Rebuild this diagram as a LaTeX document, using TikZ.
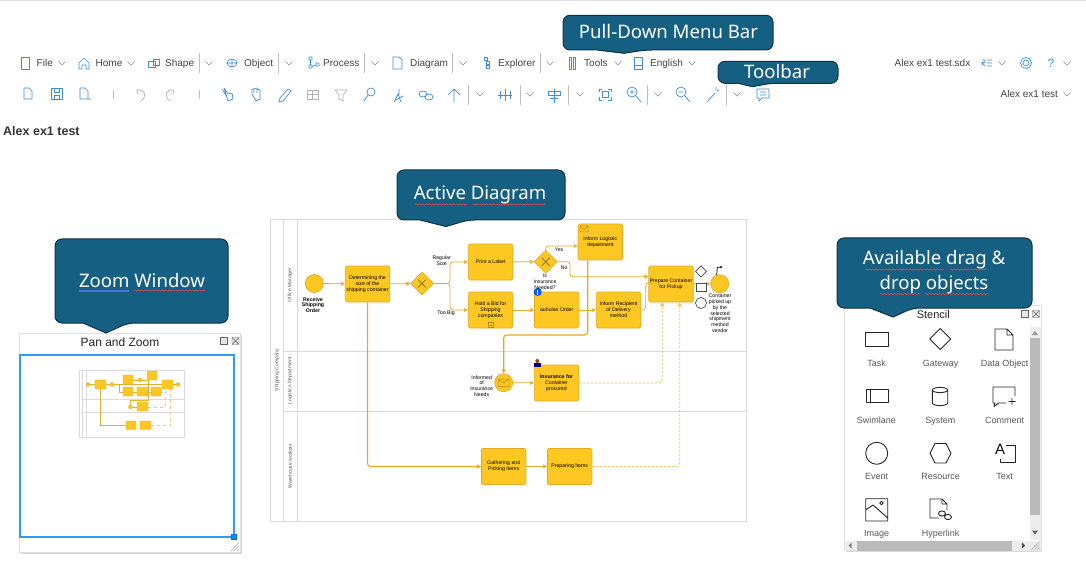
\documentclass[tikz,border=0pt]{standalone}
\usepackage{fontspec}
\setmainfont{Liberation Sans}
\newfontfamily\bubblefont{Noto Sans}
\usetikzlibrary{arrows.meta,decorations.pathmorphing,shadows,shapes.geometric}
\definecolor{bubblefill}{HTML}{156082}
\definecolor{bubbleline}{HTML}{0C3347}
\definecolor{taskfill}{HTML}{FFC722}
\definecolor{taskline}{HTML}{E2AC22}
\definecolor{flowline}{HTML}{E0AE30}
\definecolor{laneline}{HTML}{D9D9E4}
\definecolor{iconblue}{HTML}{3F8FD2}
\definecolor{menugrey}{HTML}{444444}
\definecolor{panblue}{HTML}{2E9CF2}
\definecolor{linkblue}{HTML}{4A78CC}
\tikzset{
	bubble/.style={draw=bubbleline, fill=bubblefill, line width=1pt, rounded corners=7pt},
	bubbletext/.style={text=white, inner sep=0pt, align=center, font=\bubblefont\fontsize{18.6}{25}\selectfont},
	squiggle/.style={draw=red!75, line width=.5pt, decorate, decoration={snake, amplitude=.7pt, segment length=3.4pt}},
	menutext/.style={text=menugrey, inner sep=0pt, anchor=base west, font=\fontsize{10}{12}\selectfont},
	chevron/.style={draw=black!45, line width=.5pt},
	sepline/.style={draw=black!25, line width=.5pt},
	toolicon/.style={draw=iconblue, line width=.7pt, line join=round},
	greyicon/.style={draw=black!30, line width=.7pt, line join=round},
	task/.style={draw=taskline, fill=taskfill, line width=.7pt, rounded corners=1.5pt, minimum width=44.5pt, minimum height=36pt, inner sep=0pt, align=center, font=\fontsize{5.2}{6}\selectfont},
	event/.style={circle, draw=taskline, fill=taskfill, line width=.7pt, minimum size=18pt, inner sep=0pt},
	gateway/.style={diamond, draw=taskline, fill=taskfill, line width=.7pt, minimum size=23pt, inner sep=0pt},
	flow/.style={draw=flowline, line width=.8pt, rounded corners=3pt, -{Stealth[length=4.5pt,width=4.5pt]}},
	mainflow/.style={flow, line width=1.1pt, draw=taskline},
	backflow/.style={flow, dash pattern=on 2pt off 2pt, draw=flowline!85},
	lane/.style={draw=laneline, line width=1pt},
	lanetext/.style={text=black!65, rotate=90, inner sep=0pt, font=\fontsize{5}{6}\selectfont},
	small/.style={inner sep=0pt, align=center, font=\fontsize{5.2}{5.8}\selectfont},
	window/.style={draw=black!12, fill=white, line width=.5pt, drop shadow={opacity=.3, shadow xshift=1pt, shadow yshift=-1.5pt}},
	stencilicon/.style={draw=black!85, line width=.9pt, line join=round},
	stencillabel/.style={text=black!65, inner sep=0pt, anchor=base, font=\fontsize{9}{11}\selectfont},
	minibox/.style={draw=taskline, fill=taskfill, line width=.4pt, rounded corners=.6pt},
	miniline/.style={draw=flowline, line width=.4pt},
	winbtn/.style={draw=black!60, fill=black!10, line width=.4pt},
}
% balloon with its pointer: left, top, right, bottom, then pointer left, tip x, tip y, pointer right
\newcommand{\balloon}[8]{
	\draw [bubble] (#1,#2) -- (#3,#2) -- (#3,#4) -- (#8,#4) [sharp corners] -- (#6,#7) -- (#5,#4) [rounded corners=7pt] -- (#1,#4) -- cycle;
}
\begin{document}
\begin{tikzpicture}[x=1pt, y=-1pt]
	\useasboundingbox (0,0) rectangle (1086,561);
	\fill [white] (0,0) rectangle (1086,561);
	\fill [black!12] (0,0) rectangle (1086,1);
%	\draw [step=50, black!20] (0,0) grid (1086,561);

	% menu bar
	\node [menutext] (mfile) at (36.5,66.5) {File};
	\node [menutext] (mhome) at (95.5,66.5) {Home};
	\node [menutext] (mshape) at (165,66.5) {Shape};
	\node [menutext] (mobject) at (244,66.5) {Object};
	\node [menutext] (mprocess) at (323,66.5) {Process};
	\node [menutext] (mdiagram) at (410,66.5) {Diagram};
	\node [menutext] (mexplorer) at (498,66.5) {Explorer};
	\node [menutext] (mtools) at (584,66.5) {Tools};
	\node [menutext] (menglish) at (650,66.5) {English};
	\node [menutext] (mfilename) at (894.5,66.5) {Alex ex1 test.sdx};
	\node [menutext] (mview) at (1000.5,98) {Alex ex1 test};
	\foreach \x in {62,131,209,289,375,463,550,618,692,1002,1067}
		\draw [chevron] (\x-3.5,61.5) -- (\x,65) -- (\x+3.5,61.5);
	\foreach \x in {480,530,580,658,737,1067}
		\draw [chevron] (\x-3.5,92.5) -- (\x,96) -- (\x+3.5,92.5);
	\foreach \x in {199,278,364,452,540}
		\draw [sepline] (\x,53) -- (\x,73);
	\foreach \x in {468,520,568,647,726}
		\draw [sepline] (\x,85) -- (\x,105);
	\foreach \x in {113,199}
		\draw [sepline] (\x,90.5) -- (\x,99.5);

	% menu icons
	\draw [toolicon] (21,57) rectangle (29,69);
	\draw [toolicon] (79,69) -- (79,63) -- (84,58) -- (89,63) -- (89,69) -- (86,69) -- (86,65) -- (82,65) -- (82,69) -- cycle;
	\draw [toolicon] (148,61) rectangle (155,67) (153,59) rectangle (159,65);
	\draw [toolicon] (232,63) ellipse [x radius=5, y radius=4] (227,63) -- (237,63) (232,59) -- (232,67);
	\draw [toolicon] (309,57) rectangle (312,60) (310.5,60) -- (310.5,65) (309,65) rectangle (312,68) (316,63) rectangle (319,66) (312,66.5) -- (316,65);
	\draw [toolicon] (393,57) -- (399,57) -- (402,60) -- (402,69) -- (393,69) -- cycle;
	\draw [toolicon] (484,57) rectangle (487,60) (486,61) rectangle (489,64) (486,65) rectangle (489,68);
	\draw [toolicon] (569,57) rectangle (571,69) (573,57) rectangle (575,69);
	\draw [toolicon] (634,57) rectangle (642,69) (634,65) -- (642,65);
	\draw [toolicon] (982,60) -- (985,60) -- (985,62.5) -- (982,62.5) -- (985,66) (982,62.5) -- (982,66) (987,60) -- (992,60) (987,63) -- (992,63) (987,66) -- (992,66);
	\draw [toolicon] (1026,63) circle [radius=3] (1026,63) circle [radius=5.5];
	\node [text=iconblue, inner sep=0pt, font=\fontsize{12}{12}\selectfont] (mhelp) at (1051,63) {?};

	% tool bar
	\begin{scope}[shift={(0,-1)}]
	\draw [toolicon] (24,89) -- (29,89) -- (32,92) -- (32,100) -- (24,100) -- cycle;
	\draw [toolicon] (51,89) rectangle (62,100) (54,89) rectangle (59,93) (54,100) rectangle (59,96);
	\draw [toolicon] (80,89) -- (85,89) -- (88,92) -- (88,100) -- (80,100) -- cycle (87,100) -- (91,100);
	\draw [greyicon] (138,95) -- (137,91) -- (141,91) (137,91) .. controls (146,90) and (147,98) .. (141,102);
	\draw [greyicon] (173,95) -- (174,91) -- (170,91) (174,91) .. controls (165,90) and (164,98) .. (170,102);
	\draw [toolicon] (222,90) -- (227,98) (224,89) -- (228,95) -- (232,94) -- (233,100) -- (228,102) -- cycle;
	\draw [toolicon] (252,95) -- (252,90) -- (254,90) -- (254,94) (254,90) -- (257,89) -- (257,94) (257,90) -- (260,91) -- (260,100) -- (256,102) -- (252,95);
	\draw [toolicon] (279,103) -- (280,99) -- (288,90) -- (291,92) -- (283,102) -- cycle;
	\draw [greyicon] (307,91) rectangle (318,100) (312.5,91) -- (312.5,100) (307,95.5) -- (318,95.5);
	\draw [greyicon] (335,91) -- (347,91) -- (343,96) -- (343,102) -- (339,100) -- (339,96) -- cycle;
	\draw [toolicon] (371,93) circle [radius=4] (368,96) -- (364,102);
	\draw [toolicon] (396,101) -- (403,97) (394,103) -- (398,95) -- (401,103) (399,90) -- (399,96);
	\draw [toolicon] (423,95) ellipse [x radius=4, y radius=3] (429,98) ellipse [x radius=4, y radius=3];
	\draw [toolicon] (454,103) -- (454,90) (448,96) -- (454,90) -- (460,96);
	\draw [toolicon] (500,92) -- (500,100) (505,90) -- (505,102) (510,92) -- (510,100) (498,96) -- (512,96);
	\draw [toolicon] (554,90) -- (554,104) (548,92) rectangle (560,96) (550,99) -- (558,99);
	\draw [toolicon] (602,92.5) rectangle (608,98.5) (599,93) -- (599,90) -- (602,90) (608,90) -- (611,90) -- (611,93) (599,98) -- (599,101) -- (602,101) (608,101) -- (611,101) -- (611,98);
	\draw [toolicon] (632,93) circle [radius=5] (629.5,93) -- (634.5,93) (632,90.5) -- (632,95.5) (636,97) -- (641,103);
	\draw [toolicon] (681,93) circle [radius=5] (678.5,93) -- (683.5,93) (685,97) -- (690,103);
	\draw [toolicon] (707,103) -- (715,94) (716,88) -- (716,91) (719,91) -- (717,92);
	\draw [toolicon] (757,90) -- (769,90) -- (769,99) -- (762,99) -- (759,102) -- (759,99) -- (757,99) -- cycle (760,93) -- (766,93) (760,96) -- (766,96);
	\end{scope}

	\node [inner sep=0pt, anchor=west, text=black!80, font=\bfseries\fontsize{12.5}{15}\selectfont] (title) at (3,131) {Alex ex1 test};

	% active diagram
	\draw [lane] (270.5,220) rectangle (746,521.5);
	\draw [lane] (283.5,220) -- (283.5,521.5);
	\draw [lane] (297,220) -- (297,521.5);
	\draw [lane] (283.5,351.7) -- (746,351.7);
	\draw [lane] (283.5,411.7) -- (746,411.7);
	\node [lanetext] (lcompany) at (277,370) {Shipping Company};
	\node [lanetext] (loffice) at (290,285) {Office Manager};
	\node [lanetext] (llogistics) at (290,381) {Logistics Department};
	\node [lanetext] (lwarehouse) at (290,466) {Warehouse workers};

	\node [event] (receive) at (314.3,283.5) {};
	\node [task] (determine) at (367.5,284) {Determining the\\size of the\\shipping container};
	\node [gateway] (sizegate) at (422,283.5) {};
	\node [task] (print) at (490.5,262) {Print a Label};
	\node [task] (bid) at (490.5,310) {Hold a Bid for\\Shipping\\companies};
	\node [gateway] (insgate) at (545.7,261.7) {};
	\node [task] (logistic) at (600.3,242) {Inform Logistic\\department};
	\node [task] (schedule) at (556.7,310) {auhulan Order};
	\node [task] (recipient) at (618.5,310) {Inform Recipient\\of Delivery\\method};
	\node [task] (prepare) at (671,284) {Prepare Container\\for Pickup};
	\node [event] (pickedup) at (719.7,283.7) {};
	\node [event] (informed) at (503.7,382.7) {};
	\node [task] (insurance) at (556.5,383) {\textbf{Insurance for}\\\textit{Container}\\procured};
	\node [task] (gather) at (503.7,466.5) {Gathering and\\Picking Items};
	\node [task] (items) at (569.7,466.5) {Preparing Items};

	\coordinate (sizesplit) at (450,283.5);
	\coordinate (nobend) at (570,261.7);
	\coordinate (nolevel) at (570,276.7);
	\coordinate (recipbend) at (645.7,310);
	\coordinate (lowlevel) at (503.7,335);

	\draw [flow] (receive) -- (determine);
	\draw [flow] (determine) -- (sizegate);
	\draw [flow] (sizegate) -- (sizesplit) |- (print);
	\draw [flow] (sizegate) -- (sizesplit) |- (bid);
	\draw [flow] (print) -- (insgate);
	\draw [flow] (bid) -- (schedule);
	\draw [flow] (schedule) -- (recipient);
	\draw [flow] (insgate.north) |- (logistic.west |- 0,246);
	\draw [flow] (insgate.east) -- (nobend) -- (nolevel) -- (prepare.west |- nolevel);
	\draw [flow] (recipient) -- (recipbend) |- (prepare.west |- 0,282.7);
	\draw [flow] (prepare) -- (pickedup);
	\draw [mainflow] (logistic.south -| 587.7,0) |- (lowlevel) -- (informed);
	\draw [flow] (informed) -- (insurance);
	\draw [mainflow] (determine) |- (gather);
	\draw [flow] (gather) -- (items);
	\draw [backflow] (insurance) -| (prepare.south -| 662.3,0);
	\draw [backflow] (items) -| (prepare.south -| 679.7,0);

	% gateway marks and small icons
	\draw [black!50!taskline, line width=.5pt] (418,279.5) -- (426,287.5) (426,279.5) -- (418,287.5);
	\draw [black!50!taskline, line width=.5pt] (541.7,257.7) -- (549.7,265.7) (549.7,257.7) -- (541.7,265.7);
	\draw [taskline!80!black, line width=.4pt] (488,322) rectangle (493.5,327.5) (489.5,324.7) -- (492,324.7) (490.7,323.5) -- (490.7,326);
	\draw [taskline!80!black, line width=.5pt] (580,226) rectangle (588,232) (580,226) -- (584,229.5) -- (588,226);
	\draw [taskline!80!black, line width=.5pt] (498,379) rectangle (509,386.5) (498,379) -- (503.5,383) -- (509,379);
	\fill [blue!65!cyan] (537.7,292) circle [radius=4];
	\fill [white] (537.2,289.5) rectangle (538.2,294.5);
	\fill [blue!50!black] (534,363) rectangle (540.5,367);
	\fill [orange!60!black] (537.3,361) circle [radius=2];
	\draw [black!70, line width=.7pt, fill=white] (701,265.8) -- (706.5,271.3) -- (701,276.8) -- (695.5,271.3) -- cycle;
	\draw [black!70, line width=.7pt, fill=white] (696,283.7) rectangle (706.7,291);
	\draw [black!70, line width=.7pt, fill=white] (701,303) circle [radius=5.5];
	\draw [black, line width=.7pt, -{Stealth[length=2.5pt,width=2.5pt]}] (716.7,275) -- (717.3,267.3) -- (722.5,267);

	% labels of the active diagram
	\node [small, font=\bfseries\fontsize{5.2}{5.6}\selectfont] (treceive) at (313,305) {Receive\\Shipping\\Order};
	\node [small] (tregular) at (441.7,260.7) {Regular\\Size};
	\node [small] (ttoobig) at (446,313) {Too Big};
	\node [small] (tyes) at (559,249.3) {Yes};
	\node [small] (tno) at (564.3,267.3) {No};
	\node [small] (tneeded) at (545,282) {Is\\Insurance\\Needed?};
	\node [small, anchor=north] (tpicked) at (720,293.8) {Container\\picked up\\by the\\selected\\shipment\\method\\vendor};
	\node [small] (tinformed) at (481.7,386) {Informed\\of\\Insurance\\Needs};

	% pan and zoom window
	\draw [window] (19.5,333) rectangle (240.5,552);
	\node [inner sep=0pt, text=black!85, font=\fontsize{12}{14}\selectfont] (tpan) at (120,342) {Pan and Zoom};
	\draw [winbtn] (220.5,337.5) rectangle (227.5,344.5);
	\draw [winbtn] (232,337.5) rectangle (239,344.5) (232,337.5) -- (239,344.5) (239,337.5) -- (232,344.5);
	\draw [draw=panblue, line width=1.3pt] (20,355) rectangle (234,537);
	\draw [draw=blue!60!cyan, fill=cyan!80!blue, line width=.5pt] (231.3,534.3) rectangle (236.7,539.7);
	\foreach \d in {2,5,8}
		\draw [black!35, line width=.5pt] (239-\d,551) -- (239,551-\d);

	% overview inside the pan and zoom window
	\draw [draw=laneline, line width=.6pt] (79.5,370.5) rectangle (184,437);
	\draw [draw=laneline, line width=.6pt] (82.5,370.5) -- (82.5,437) (86,370.5) -- (86,437) (82.5,399.5) -- (184,399.5) (82.5,412.5) -- (184,412.5);
	\draw [miniline] (88,384.5) -- (178,384.5) (100.5,389) |- (126,425.5) (140,425.5) -- (151,425.5);
	\draw [miniline] (112,384.5) -- (119,384.5) -- (119,392) -- (123,392) (133,380) -- (147,380) (133,392) -- (162,392) (148.5,380) -- (148.5,400) -- (130.5,400) -- (130.5,407) (130.5,407) -- (137,407);
	\draw [miniline, dashed, flowline!60] (151,425.5) -- (170,425.5) -- (170,389) (148,407) -- (165,407) -- (165,389);
	\foreach \x/\y in {88/384.5,112/384.5,140/380,178/384.5,130.5/407}
		\fill [taskfill, draw=taskline, line width=.3pt] (\x,\y) circle [radius=2];
	\foreach \a/\b/\c/\d in {95/380/106/389,123/375/133/384,123/387/133/396,147/371/157/380,137/387/148/396,151/387/161/396,162/380/173/389,137/402/148/411,126/421/136/429.5,140/421/151/429.5}
		\draw [minibox] (\a,\b) rectangle (\c,\d);

	% stencil window
	\draw [window] (844.7,305) rectangle (1041,550.7);
	\node [inner sep=0pt, text=black!85, font=\fontsize{11}{13}\selectfont] (tstencil) at (933.3,315) {Stencil};
	\draw [winbtn] (1021.5,310.5) rectangle (1028.5,317.5);
	\draw [winbtn] (1032.5,310.5) rectangle (1039.5,317.5) (1032.5,310.5) -- (1039.5,317.5) (1039.5,310.5) -- (1032.5,317.5);
	\fill [black!7] (1030,327) rectangle (1041,540);
	\fill [black!27] (1030,338) rectangle (1040,515);
	\fill [black!40] (1035,331) -- (1038,335) -- (1032,335) -- cycle;
	\fill [black!60] (1032,530.5) -- (1038,530.5) -- (1035,534.5) -- cycle;
	\fill [black!7] (845,540.7) rectangle (1041,550.5);
	\fill [black!27] (856.7,540.7) rectangle (1011.7,550.5);
	\fill [black!50] (848.5,545.5) -- (851.5,542.5) -- (851.5,548.5) -- cycle;
	\fill [black!70] (1022,542.5) -- (1025,545.5) -- (1022,548.5) -- cycle;
	\foreach \d in {2,5,8}
		\draw [black!35, line width=.5pt] (1039.5-\d,549.7) -- (1039.5,549.7-\d);

	\draw [stencilicon] (865.7,332.7) rectangle (888,346);
	\node [stencillabel] (ttask) at (876.7,366) {Task};
	\draw [stencilicon] (940.3,328.5) -- (950.8,339) -- (940.3,349.5) -- (929.8,339) -- cycle;
	\node [stencillabel] (tgateway) at (940.7,366) {Gateway};
	\draw [stencilicon] (995,329) -- (1007,329) -- (1013,335) -- (1013,350) -- (995,350) -- cycle (1007,329) -- (1007,335) -- (1013,335);
	\node [stencillabel] (tdata) at (1004.5,366) {Data Object};
	\draw [stencilicon] (866,389.5) rectangle (888,402) (870.7,389.5) -- (870.7,402);
	\node [stencillabel] (tswim) at (876.3,423) {Swimlane};
	\draw [stencilicon] (932.3,390) -- (932.3,403) arc [start angle=180, end angle=360, x radius=7.7, y radius=-2.6] -- (947.7,390) (940,390) ellipse [x radius=7.7, y radius=2.6];
	\node [stencillabel] (tsystem) at (940.3,423) {System};
	\draw [stencilicon] (1006,403) -- (998.5,403) -- (994,406.5) -- (994.8,403) -- (993,403) -- (993,387) -- (1015,387) -- (1015,396) (1012,398) -- (1012,405) (1008.5,401.5) -- (1015.5,401.5);
	\node [stencillabel] (tcomment) at (1004.5,423) {Comment};
	\draw [stencilicon] (876.7,453.3) circle [radius=11];
	\node [stencillabel] (tevent) at (876.7,479.5) {Event};
	\draw [stencilicon] (930,453.3) -- (935,443.5) -- (946,443.5) -- (951,453.3) -- (946,463) -- (935,463) -- cycle;
	\node [stencillabel] (tresource) at (940.7,479.5) {Resource};
	\node [inner sep=0pt, font=\rmfamily\fontsize{15}{15}\selectfont] (tglyph) at (1000,449.5) {A};
	\draw [stencilicon] (1006,445) -- (1015,445) -- (1015,462) -- (1000,462) -- (1000,459);
	\node [stencillabel] (ttext) at (1004.5,479.5) {Text};
	\draw [stencilicon] (865.7,498.7) rectangle (887.7,521) (865.7,510) -- (873,505) -- (887.7,518) (881.5,503) circle [radius=1.8];
	\node [stencillabel] (timage) at (876.7,536.5) {Image};
	\draw [stencilicon] (939,518) -- (930,518) -- (930,499) -- (942,499) -- (947,504) -- (947,510) (942,499) -- (942,504) -- (947,504);
	\draw [stencilicon] (942,513.5) ellipse [x radius=3.5, y radius=2.6] (948,517) ellipse [x radius=3.5, y radius=2.6];
	\node [stencillabel] (tlink) at (940.7,536.5) {Hyperlink};

	% callouts
	\balloon{563}{15.3}{773}{50}{597}{624}{53.3}{645}
	\node [bubbletext] (tmenubar) at (668.5,31.5) {Pull-Down Menu Bar};
	\balloon{718}{61.3}{838}{83.3}{738}{752.5}{86.7}{770}
	\node [bubbletext] (ttoolbar) at (777,71.5) {Toolbar};
	\balloon{397}{170}{565}{220}{420}{446}{226.5}{468}
	\node [bubbletext] (tactive) at (480,194.5) {Active Diagram};
	\balloon{55}{239}{228}{323}{83}{106}{333}{128}
	\node [bubbletext] (tzoom) at (142,280.5) {Zoom Window};
	\balloon{837}{238}{1032}{308}{870}{893}{317}{913}
	\node [bubbletext] (tstock) at (934,272) {Available drag \&\\drop objects};

	% proofing marks under the callout words
	\draw [squiggle] (415,204.5) -- (467,204.5);
	\draw [squiggle] (472,204.5) -- (546,204.5);
	\draw [linkblue, line width=1.3pt] (79,291) -- (129,291);
	\draw [squiggle] (134,290.5) -- (205,290.5);
	\draw [squiggle] (865,269.5) -- (944,269.5);
	\draw [squiggle] (950,269.5) -- (987,269.5);
	\draw [squiggle] (880,294) -- (920,294);
	\draw [squiggle] (925,294) -- (989,294);
\end{tikzpicture}
\end{document}
